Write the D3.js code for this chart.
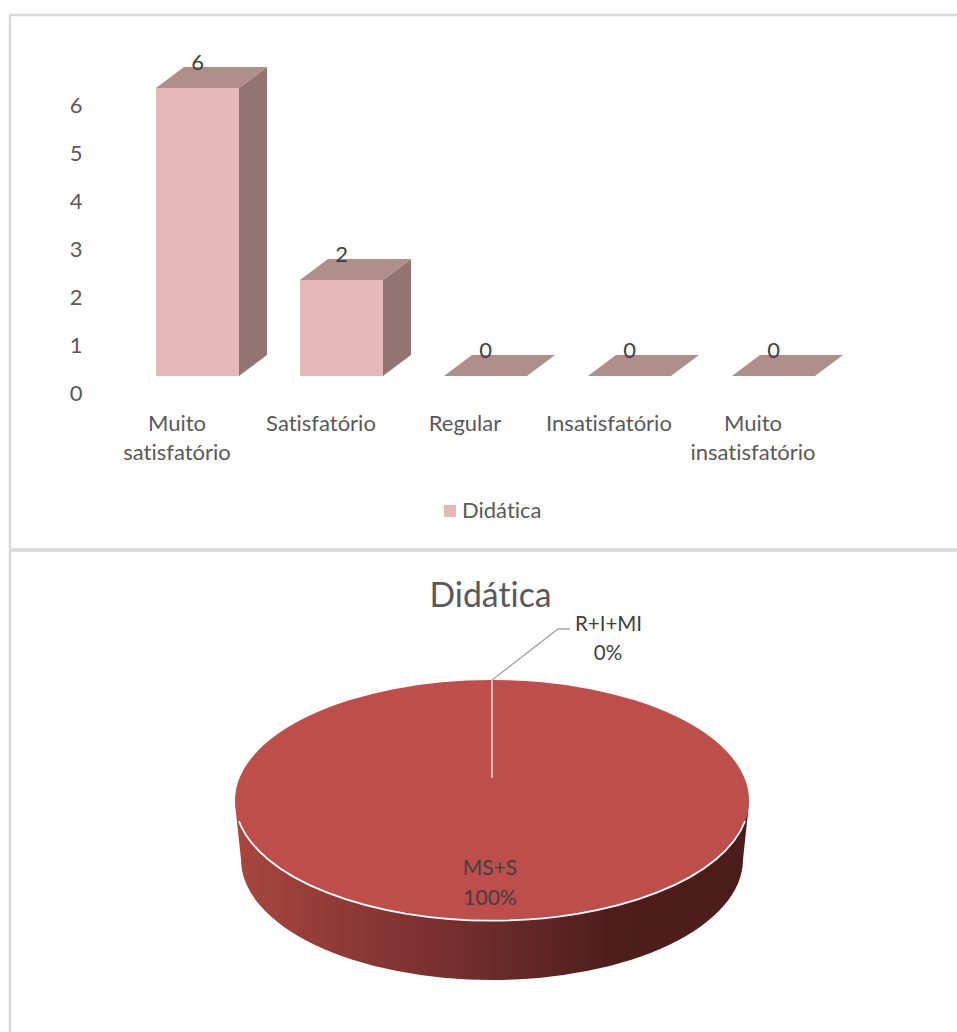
<!DOCTYPE html>
<html><head><meta charset="utf-8">
<script src="https://cdnjs.cloudflare.com/ajax/libs/d3/7.8.5/d3.min.js"></script>
<style>
html,body{margin:0;padding:0;background:#fff;overflow:hidden}
svg{display:block}
text{font-family:Lato,"Open Sans",sans-serif;font-variant-ligatures:none}
</style></head><body>
<svg id="c" width="957" height="1032"></svg>
<script>
const categories=[["Muito","satisfatório"],["Satisfatório"],["Regular"],["Insatisfatório"],["Muito","insatisfatório"]];
const barValues=[6,2,0,0,0];
const yTicks=[0,1,2,3,4,5,6];
const seriesName="Didática";
const pieLabels=["MS+S","R+I+MI"];
const pieValues=[100,0];
const piePercents=["100%","0%"];

const svg=d3.select("#c");
const grey="#595959",dark="#404040",border="#d9d9d9";
const F=22,P=21;

// panel borders
[[10,15,10,1032],[10,15,957,15],[10,550,957,550]].forEach(l=>{
  svg.append("line").attr("x1",l[0]).attr("y1",l[1]).attr("x2",l[2]).attr("y2",l[3])
    .attr("stroke",border).attr("stroke-width",l[1]==550?3.5:2.5);
});

// bar chart
const names=categories.map(c=>c.join(" "));
const x=d3.scaleBand().domain(names).range([125.5,845.5]).paddingInner(0.424).paddingOuter(0.212);
const y=d3.scaleLinear().domain([0,6]).range([376,88]);
const dx=28,dy=-21;
const bars=svg.append("g").selectAll("g").data(names.map((n,i)=>({n,v:barValues[i],c:categories[i]}))).join("g");
const pts=a=>a.map(p=>p.join(",")).join(" ");
bars.append("polygon").attr("fill","#927573").attr("points",d=>{
  const l=x(d.n)+x.bandwidth();
  return pts([[l,y(d.v)],[l+dx,y(d.v)+dy],[l+dx,y(0)+dy],[l,y(0)]]);});
bars.append("polygon").attr("fill","#b08e8a").attr("points",d=>{
  const a=x(d.n),b=a+x.bandwidth();
  return pts([[a,y(d.v)],[a+dx,y(d.v)+dy],[b+dx,y(d.v)+dy],[b,y(d.v)]]);});
bars.append("rect").attr("fill","#e6b8b7").attr("x",d=>x(d.n)).attr("y",d=>y(d.v))
  .attr("width",x.bandwidth()).attr("height",d=>y(0)-y(d.v));
bars.append("text").attr("x",d=>x(d.n)+41.5).attr("y",d=>y(d.v)-18.5).attr("text-anchor","middle")
  .attr("font-size",F).attr("fill",dark).text(d=>d.v);
bars.append("text").attr("text-anchor","middle").attr("font-size",F).attr("fill",grey)
  .each(function(d){
    d3.select(this).selectAll("tspan").data(d.c).join("tspan")
      .attr("x",x(d.n)+x.bandwidth()/2-20.5).attr("y",(t,i)=>431+i*29).text(t=>t);
  });

// value axis
const ax=svg.append("g").attr("transform","translate(86,17)")
  .call(d3.axisLeft(y).tickValues(yTicks).tickSize(0).tickPadding(3.5).tickFormat(d3.format("d")));
ax.select(".domain").remove();
ax.selectAll("text").attr("font-size",F).attr("fill",grey).style("font-family","Lato,'Open Sans',sans-serif");

// legend
svg.append("rect").attr("x",444).attr("y",505).attr("width",12).attr("height",12).attr("fill","#e6b8b7");
svg.append("text").attr("x",462).attr("y",518).attr("font-size",F).attr("fill",grey).text(seriesName);

// pie
const cx=492,cy=800.5,rx=257,ry=120.5,depth=59,shrink=6;
const defs=svg.append("defs");
const g=defs.append("linearGradient").attr("id","side");
[[0,"#a8473f"],[0.25,"#8a3735"],[0.5,"#6c2b2b"],[0.72,"#4f1e1c"],[1,"#4a1c1a"]].forEach(s=>
  g.append("stop").attr("offset",s[0]).attr("stop-color",s[1]));
const sx=d3.scaleLinear().domain([-1,1]).range([cx-rx,cx+rx]);
const sy=d3.scaleLinear().domain([-1,1]).range([cy-ry,cy+ry]);
svg.append("path").attr("fill","url(#side)").attr("d",()=>{
  const by=cy+depth,brx=rx-shrink;
  return `M${sx(-1)},${cy}L${sx(-1)+1},${cy+12}L${cx-brx},${by}A${brx},${ry} 0 0 0 ${cx+brx},${by}L${sx(1)-1},${cy+12}L${sx(1)},${cy}Z`;
});
const pie=d3.pie().sort(null).startAngle(0).endAngle(2*Math.PI)(pieValues);
const arc=d3.arc().innerRadius(0).outerRadius(rx);
svg.append("g").attr("transform",`translate(${cx},${cy}) scale(1,${ry/rx})`)
  .selectAll("path").data(pie).join("path").attr("d",arc).attr("fill","#bd4e4b");
// rim highlight on front edge, seam, leader
svg.append("path").attr("fill","none").attr("stroke","#fff").attr("stroke-width",1.8)
  .attr("d",`M${cx-rx*0.985},${cy+ry*0.17}A${rx},${ry} 0 0 0 ${cx+rx*0.985},${cy+ry*0.17}`);
svg.append("line").attr("x1",cx).attr("x2",cx).attr("y1",sy(-1)).attr("y2",778).attr("stroke","#eed3d2").attr("stroke-width",1.6);
svg.append("polyline").attr("fill","none").attr("stroke","#a6a6a6").attr("stroke-width",1.4)
  .attr("points",pts([[cx,sy(-1)],[558,629],[570,629]]));

// pie texts
svg.append("text").attr("x",490.5).attr("y",607).attr("text-anchor","middle").attr("font-size",33.8).attr("fill",grey).text(seriesName);
svg.append("text").attr("x",490).attr("y",875).attr("text-anchor","middle").attr("font-size",P).attr("fill",dark).text(pieLabels[0]);
svg.append("text").attr("x",490).attr("y",905).attr("text-anchor","middle").attr("font-size",P).attr("fill",dark).text(piePercents[0]);
svg.append("text").attr("x",608.5).attr("y",631).attr("text-anchor","middle").attr("font-size",20.5).attr("fill",dark).text(pieLabels[1]);
svg.append("text").attr("x",608).attr("y",660).attr("text-anchor","middle").attr("font-size",20.5).attr("fill",dark).text(piePercents[1]);
</script>
</body></html>
